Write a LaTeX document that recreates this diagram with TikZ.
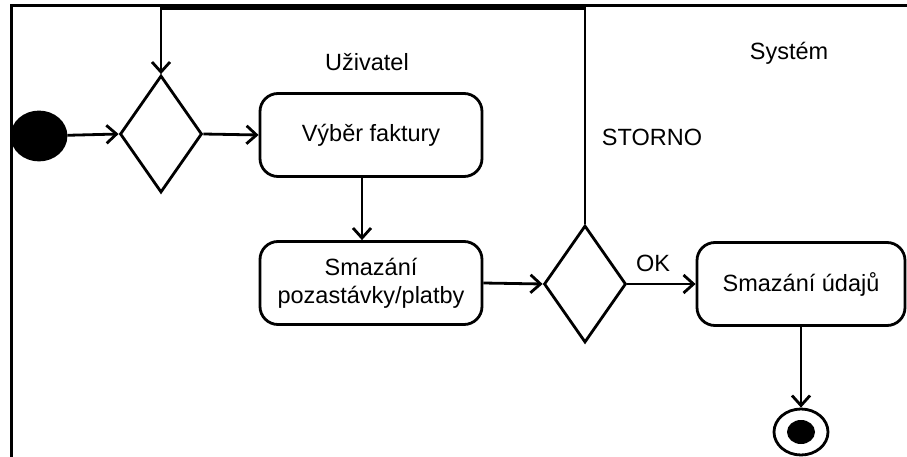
\documentclass[tikz,border=0pt]{standalone}
\usepackage{fontspec}
\setmainfont{Liberation Sans}
\usetikzlibrary{arrows.meta,shapes.geometric}
\begin{document}
\begin{tikzpicture}[x=1pt,y=-1pt,
  line width=2.8pt,
  flow/.style={-{Straight Barb[length=10pt,width=18pt,line width=2.8pt]}},
  activity/.style={draw,rounded corners=18pt,minimum height=83pt,align=center,
    font=\fontsize{23.5}{28}\selectfont,inner sep=0pt},
  decision/.style={draw,diamond,minimum width=82pt,minimum height=117pt,inner sep=0pt},
  lbl/.style={font=\fontsize{23.5}{28}\selectfont,inner sep=0pt}]
\useasboundingbox (0,0) rectangle (907,457);

% frame of the swimlanes
\draw[line width=3pt] (907,6) -- (11,6) -- (11,457);

% lane titles
\node[lbl] (lane1) at (367,62) {Uživatel};
\node[lbl] (lane2) at (789,53) {Systém};

% initial and final nodes
\node[ellipse,fill=black,draw,minimum width=54pt,minimum height=48pt,inner sep=0pt] (start) at (39,136) {};
\node[ellipse,draw,minimum width=54pt,minimum height=46pt,inner sep=0pt] (stop) at (801,432) {};
\node[ellipse,fill=black,minimum width=28pt,minimum height=24pt,inner sep=0pt] (stopdot) at (801,432) {};

% decisions
\node[decision] (d1) at (161,134) {};
\node[decision] (d2) at (585,284) {};

% activities
\node[activity,minimum width=222pt] (b1) at (371,135) {Výběr faktury};
\node[activity,minimum width=222pt] (b2) at (371,283) {Smazání\\pozastávky/platby};
\node[activity,minimum width=208pt] (b3) at (801,284) {Smazání údajů};

% guards
\node[lbl] (storno) at (652,137) {STORNO};
\node[lbl] (ok) at (653,263) {OK};

% loop back corners
\coordinate (loopR) at (585,8.5);
\coordinate (loopL) at (161,8.5);

% flows
\draw[flow] (start) -- (d1.west);
\draw[flow] (d1.east) -- (b1.west);
\draw[flow] ([xshift=-9pt]b1.south) -- ([xshift=-9pt]b2.north);
\draw[flow] (b2.east) -- (d2.west);
\draw[flow] (d2.east) -- (b3.west);
\draw[flow] (b3.south) -- (stop.north);
\draw[flow] (d2.north) -- (loopR) -- (loopL) -- (d1.north);
\end{tikzpicture}
\end{document}
